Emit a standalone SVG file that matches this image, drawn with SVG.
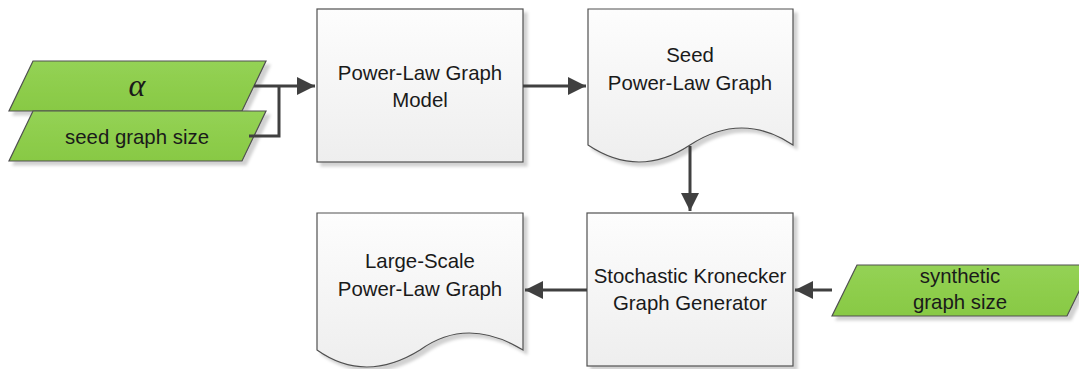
<svg xmlns="http://www.w3.org/2000/svg" width="1079" height="369" viewBox="0 0 1079 369">
<defs>
<linearGradient id="boxg" x1="0" y1="0" x2="0" y2="1">
<stop offset="0" stop-color="#fdfdfd"/>
<stop offset="1" stop-color="#eeeeee"/>
</linearGradient>
<linearGradient id="greeng" x1="0" y1="0" x2="0" y2="1">
<stop offset="0" stop-color="#94d255"/>
<stop offset="1" stop-color="#88c944"/>
</linearGradient>
<filter id="sh" x="-10%" y="-10%" width="130%" height="130%">
<feDropShadow dx="4" dy="4" stdDeviation="1.5" flood-color="#000" flood-opacity="0.18"/>
</filter>
<marker id="arr" markerWidth="6" markerHeight="6" refX="6" refY="3" orient="auto" markerUnits="strokeWidth">
<path d="M0,0 L6,3 L0,6 Z" fill="#404040"/>
</marker>
</defs>
<style>
.box{fill:url(#boxg);stroke:#505050;stroke-width:1.2;filter:url(#sh)}
.io{fill:url(#greeng);stroke:#505050;stroke-width:1.2;filter:url(#sh)}
.t{font-family:"Liberation Sans",Arial,sans-serif;font-size:20.4px;fill:#1a1a1a;text-anchor:middle}
.c{fill:none;stroke:#404040;stroke-width:3}
</style>
<g id="alpha">
<path class="io" d="M33,61 L266,61 L242,111 L9,111 Z"/>
<text x="137" y="96" text-anchor="middle" font-family="Liberation Serif,serif" font-style="italic" font-size="32" fill="#1a1a1a">α</text>
</g>
<g id="seed-size">
<path class="io" d="M33,111 L266,111 L242,161 L9,161 Z"/>
<text class="t" x="137" y="144">seed graph size</text>
</g>
<g id="model">
<rect class="box" x="317" y="9" width="206" height="153"/>
<text class="t" x="420" y="80">Power-Law Graph</text>
<text class="t" x="420" y="107">Model</text>
</g>
<g id="seed-graph">
<path class="box" d="M588,9 L793,9 L793,145 Q742,111 690,145 Q639,179 588,145 Z"/>
<text class="t" x="690" y="62">Seed</text>
<text class="t" x="690" y="90">Power-Law Graph</text>
</g>
<g id="generator">
<rect class="box" x="587" y="213" width="206" height="153"/>
<text class="t" x="690" y="283">Stochastic Kronecker</text>
<text class="t" x="690" y="310">Graph Generator</text>
</g>
<g id="large-graph">
<path class="box" d="M317,213 L523,213 L523,350 Q467,316 420,350 Q365,384 317,350 Z"/>
<text class="t" x="420" y="268">Large-Scale</text>
<text class="t" x="420" y="296">Power-Law Graph</text>
</g>
<g id="synthetic-size">
<path class="io" d="M857,265 L1092,265 L1067,316 L832,316 Z"/>
<text class="t" x="960" y="283">synthetic</text>
<text class="t" x="960" y="309">graph size</text>
</g>
<g id="connectors">
<path class="c" d="M254,86 L315,86" marker-end="url(#arr)"/>
<path class="c" d="M249,136 L279,136 L279,86"/>
<path class="c" d="M523,86 L586,86" marker-end="url(#arr)"/>
<path class="c" d="M690,146 L690,211" marker-end="url(#arr)"/>
<path class="c" d="M587,290 L525,290" marker-end="url(#arr)"/>
<path class="c" d="M832,290 L795,290" marker-end="url(#arr)"/>
</g>
</svg>
